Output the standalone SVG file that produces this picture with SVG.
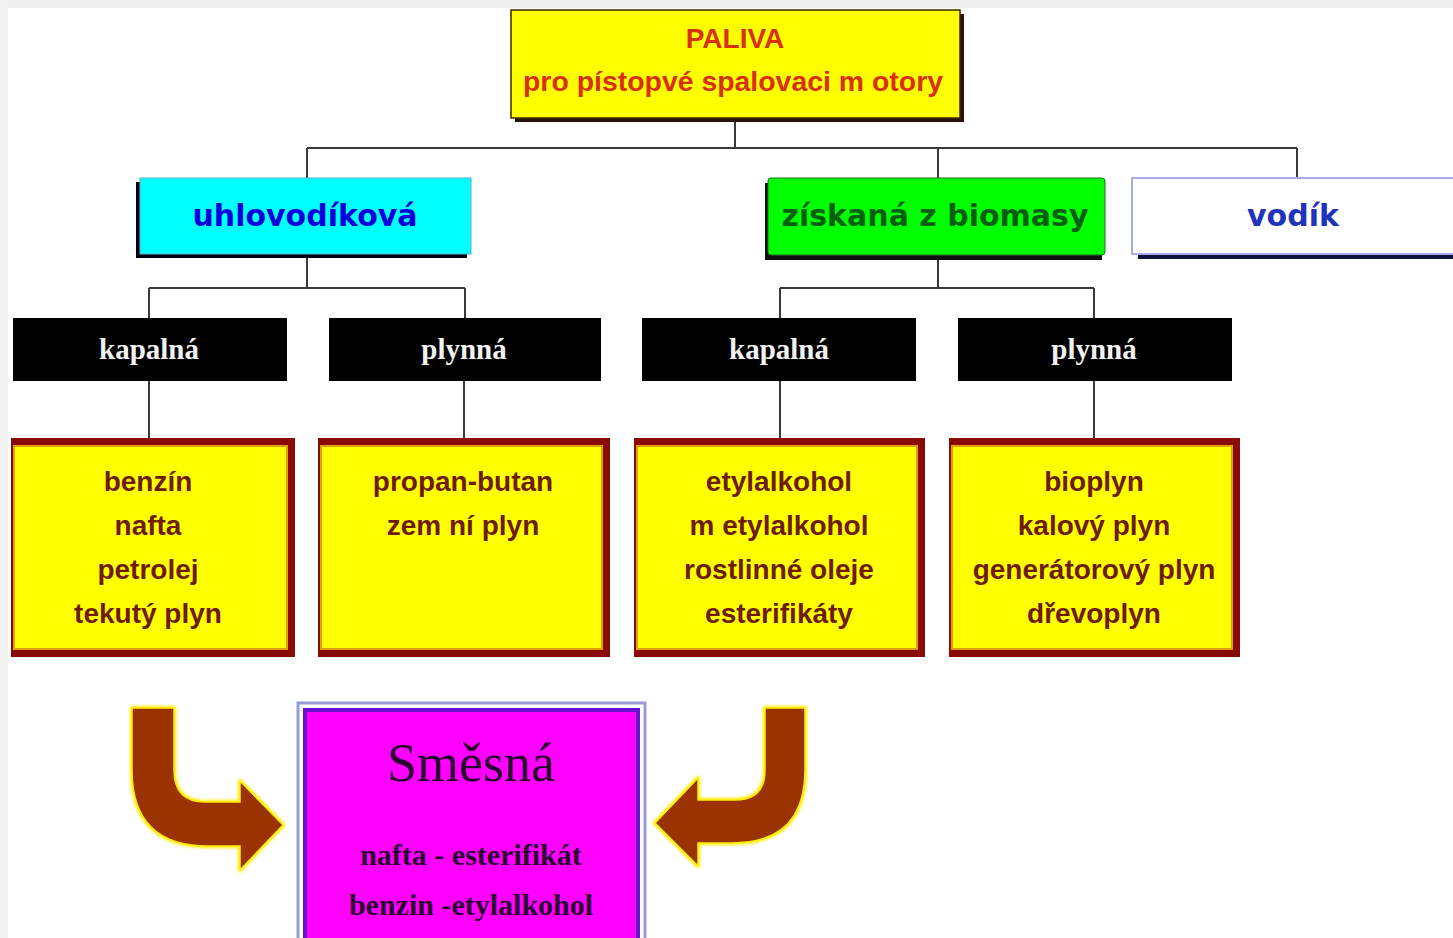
<svg xmlns="http://www.w3.org/2000/svg" width="1453" height="938" viewBox="0 0 1453 938">
<defs>
<style>
.conn{stroke:#3a3a3a;stroke-width:2;fill:none}
.lvl2{font-family:"DejaVu Sans",sans-serif;font-weight:bold;font-size:30px;text-anchor:middle}
.blk{fill:#000}
.blkt{font-family:"Liberation Serif",serif;font-weight:bold;font-size:29px;fill:#f2f2f2;text-anchor:middle}
.yout{fill:#8a0a06}
.yin{fill:#ffff00;stroke:#e0a000;stroke-width:2}
.yt{font-family:"Liberation Sans",sans-serif;font-weight:bold;font-size:28px;fill:#6e1c00;text-anchor:middle}
.arrow{fill:#9a3300;stroke:#ffee00;stroke-linejoin:round}
.smt{font-family:"Liberation Serif",serif;fill:#2a0030;text-anchor:middle}
</style>
<filter id="glow" x="-20%" y="-20%" width="140%" height="140%"><feGaussianBlur stdDeviation="1.5"/></filter>
</defs>
<rect x="0" y="0" width="1453" height="938" fill="#ffffff"/>
<rect x="0" y="0" width="1453" height="8" fill="#f0f0f0"/>
<rect x="0" y="0" width="8" height="938" fill="#f2f2f2"/>

<g id="connectors">
<path class="conn" d="M735,118 V148 M307,148 H1297 M307,148 V178 M938,148 V178 M1297,148 V178"/>
<path class="conn" d="M307,256 V288 M149,288 H465 M149,288 V318 M465,288 V318"/>
<path class="conn" d="M938,258 V288 M780,288 H1094 M780,288 V318 M1094,288 V318"/>
<path class="conn" d="M149,381 V440 M464,381 V440 M780,381 V440 M1094,381 V440"/>
</g>

<g id="paliva">
<rect x="515" y="14" width="449" height="108" fill="#2a1010"/>
<rect x="511" y="10" width="449" height="108" fill="#ffff00" stroke="#3a2a00" stroke-width="1.5"/>
<text x="735" y="48" font-family="Liberation Sans,sans-serif" font-weight="bold" font-size="28" fill="#d8300c" text-anchor="middle">PALIVA</text>
<text x="733" y="91" font-family="Liberation Sans,sans-serif" font-weight="bold" font-size="28" fill="#d8300c" text-anchor="middle" textLength="420" lengthAdjust="spacingAndGlyphs">pro pístopvé spalovaci m otory</text>
</g>

<g id="uhlovodikova">
<rect x="136" y="182" width="331" height="76" fill="#000010"/>
<rect x="140" y="178" width="331" height="76" fill="#00ffff" stroke="#5ab0d0" stroke-width="1"/>
<text class="lvl2" x="305" y="226" fill="#0000dd">uhlovodíková</text>
</g>

<g id="biomasa">
<rect x="765" y="183" width="337" height="77" fill="#101010"/>
<rect x="768" y="178" width="337" height="77" rx="3" fill="#00ff00" stroke="#2a6a2a" stroke-width="1"/>
<text class="lvl2" x="935" y="226" fill="#006010">získaná z biomasy</text>
</g>

<g id="vodik">
<rect x="1138" y="183" width="320" height="76" fill="#101040"/>
<rect x="1132" y="178" width="325" height="76" fill="#ffffff" stroke="#a8acec" stroke-width="2"/>
<text class="lvl2" x="1293" y="226" fill="#2233bb">vodík</text>
</g>

<g id="kapalna1"><rect class="blk" x="13" y="318" width="274" height="63"/><text class="blkt" x="149" y="359">kapalná</text></g>
<g id="plynna1"><rect class="blk" x="329" y="318" width="272" height="63"/><text class="blkt" x="464" y="359">plynná</text></g>
<g id="kapalna2"><rect class="blk" x="642" y="318" width="274" height="63"/><text class="blkt" x="779" y="359">kapalná</text></g>
<g id="plynna2"><rect class="blk" x="958" y="318" width="274" height="63"/><text class="blkt" x="1094" y="359">plynná</text></g>

<g id="uhl-kapalna">
<rect class="yout" x="11" y="438" width="284" height="219"/>
<rect class="yin" x="14" y="446" width="273" height="203"/>
<text class="yt" x="148" y="491">benzín</text>
<text class="yt" x="148" y="535">nafta</text>
<text class="yt" x="148" y="579">petrolej</text>
<text class="yt" x="148" y="623">tekutý plyn</text>
</g>

<g id="uhl-plynna">
<rect class="yout" x="318" y="438" width="292" height="219"/>
<rect class="yin" x="321" y="446" width="281" height="203"/>
<text class="yt" x="463" y="491">propan-butan</text>
<text class="yt" x="463" y="535">zem ní plyn</text>
</g>

<g id="bio-kapalna">
<rect class="yout" x="634" y="438" width="291" height="219"/>
<rect class="yin" x="637" y="446" width="280" height="203"/>
<text class="yt" x="779" y="491">etylalkohol</text>
<text class="yt" x="779" y="535">m etylalkohol</text>
<text class="yt" x="779" y="579">rostlinné oleje</text>
<text class="yt" x="779" y="623">esterifikáty</text>
</g>

<g id="bio-plynna">
<rect class="yout" x="949" y="438" width="291" height="219"/>
<rect class="yin" x="952" y="446" width="280" height="203"/>
<text class="yt" x="1094" y="491">bioplyn</text>
<text class="yt" x="1094" y="535">kalový plyn</text>
<text class="yt" x="1094" y="579">generátorový plyn</text>
<text class="yt" x="1094" y="623">dřevoplyn</text>
</g>

<g id="smesna">
<rect x="298" y="703" width="347" height="240" fill="#ffffff" stroke="#9a9ad8" stroke-width="3"/>
<rect x="305" y="710" width="333" height="233" fill="#ff00ff" stroke="#6a10d0" stroke-width="4"/>
<text class="smt" x="471" y="781" font-size="54">Směsná</text>
<text class="smt" x="471" y="865" font-size="30" font-weight="bold">nafta - esterifikát</text>
<text class="smt" x="471" y="915" font-size="30" font-weight="bold">benzin -etylalkohol</text>
</g>

<g id="arrows">
<path class="arrow" filter="url(#glow)" stroke-width="4" d="M132,708 H174 V770 Q174,802 205,802 H240 V781 L283,825 L240,870 V846 H208 Q132,846 132,770 Z"/>
<path class="arrow" stroke-width="1.5" d="M132,708 H174 V770 Q174,802 205,802 H240 V781 L283,825 L240,870 V846 H208 Q132,846 132,770 Z"/>
<path class="arrow" filter="url(#glow)" stroke-width="4" d="M805,708 H765 V770 Q765,800 735,800 H698 V778 L655,823 L698,866 V843 H732 Q805,843 805,770 Z"/>
<path class="arrow" stroke-width="1.5" d="M805,708 H765 V770 Q765,800 735,800 H698 V778 L655,823 L698,866 V843 H732 Q805,843 805,770 Z"/>
</g>
</svg>
